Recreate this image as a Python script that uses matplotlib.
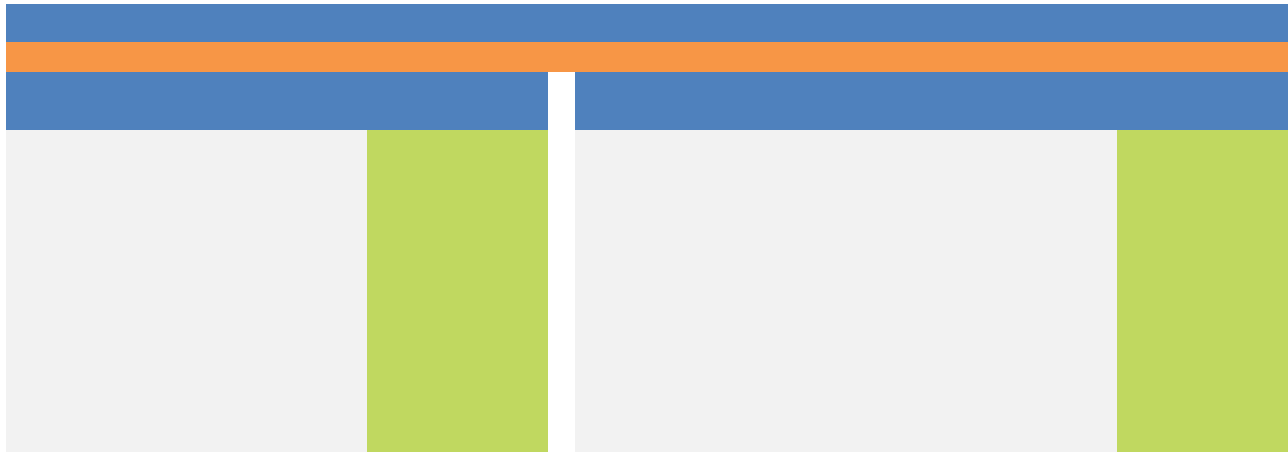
import matplotlib
matplotlib.use("Agg")
import matplotlib.pyplot as plt
from matplotlib.patches import Rectangle

# Layout blocks (x0, x1, y0, y1) in canvas units
block_names = ["header", "band", "left_head", "right_head",
               "left_body", "right_body", "left_side", "right_side"]
block_x0 = [6, 6, 6, 575, 6, 575, 367, 1117]
block_x1 = [1288, 1288, 548, 1288, 367, 1117, 548, 1288]
block_y0 = [4, 42, 72, 72, 130, 130, 130, 130]
block_y1 = [42, 72, 130, 130, 452, 452, 452, 452]
block_colors = ["#4F81BD", "#F79646", "#4F81BD", "#4F81BD",
                "#F2F2F2", "#F2F2F2", "#C0D860", "#C0D860"]

fig = plt.figure(figsize=(12.88, 4.53), dpi=100)
ax = fig.add_axes([0, 0, 1, 1])
ax.set_xlim(0, 1288)
ax.set_ylim(453, 0)
ax.axis("off")

for x0, x1, y0, y1, c in zip(block_x0, block_x1, block_y0, block_y1, block_colors):
    ax.add_patch(Rectangle((x0, y0), x1 - x0, y1 - y0, facecolor=c,
                           edgecolor="none", linewidth=0))

fig.savefig("out.png", dpi=100, facecolor="white")
